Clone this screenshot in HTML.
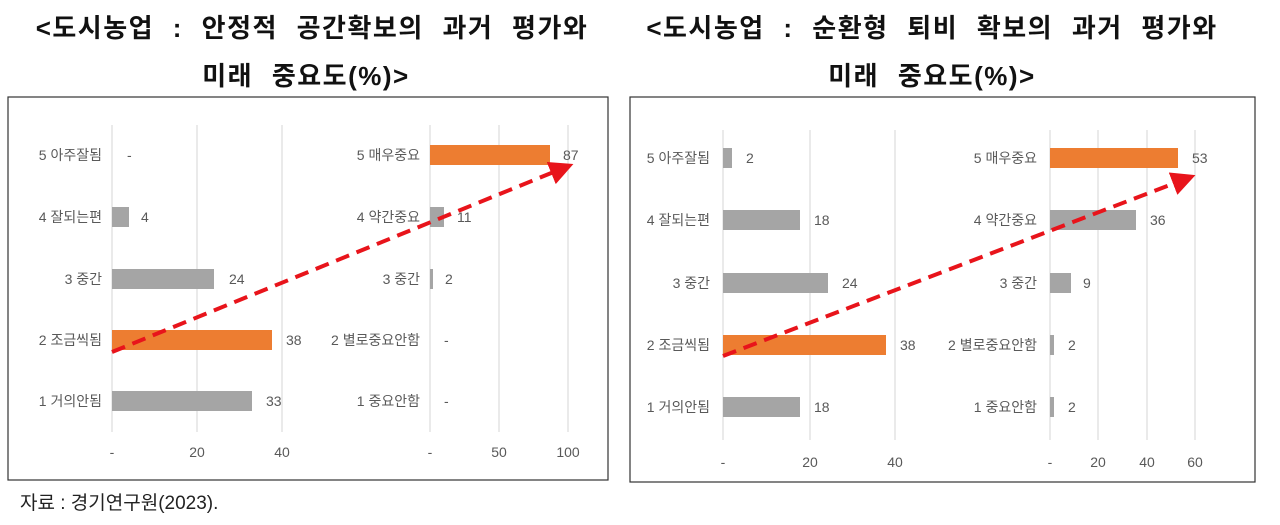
<!DOCTYPE html>
<html><head><meta charset="utf-8"><style>
body{margin:0;background:#fff;width:1280px;height:520px;overflow:hidden}
svg text{font-family:"Liberation Sans","Noto Sans CJK KR",sans-serif}
</style></head><body>
<svg width="1280" height="520" viewBox="0 0 1280 520" xmlns="http://www.w3.org/2000/svg">
<defs><marker id="ah" markerWidth="6" markerHeight="6" refX="4" refY="3" orient="auto"><path d="M0,0 L6,3 L0,6 z" fill="#e8141b"/></marker></defs>
<g font-weight="bold" font-size="26" fill="#111" text-anchor="middle" letter-spacing="1.5" word-spacing="10">
<text x="312" y="37">&lt;도시농업 : 안정적 공간확보의 과거 평가와</text>
<text x="306" y="85">미래 중요도(%)&gt;</text>
<text x="932" y="37">&lt;도시농업 : 순환형 퇴비 확보의 과거 평가와</text>
<text x="932" y="85">미래 중요도(%)&gt;</text>
</g>
<rect x="8" y="97" width="600" height="383" fill="#fff" stroke="#333" stroke-width="1.2"/>
<rect x="630" y="97" width="625" height="385" fill="#fff" stroke="#333" stroke-width="1.2"/>
<text x="20" y="509" font-size="19" fill="#222">자료 : 경기연구원(2023).</text>
<!-- left panel -->
<g stroke="#e3e3e3" stroke-width="1.5">
<line x1="112" y1="125" x2="112" y2="432"/><line x1="197" y1="125" x2="197" y2="432"/><line x1="282" y1="125" x2="282" y2="432"/>
<line x1="430" y1="125" x2="430" y2="432"/><line x1="499" y1="125" x2="499" y2="432"/><line x1="568" y1="125" x2="568" y2="432"/>
</g>
<g font-size="14" fill="#595959">
<g text-anchor="end">
<text x="102" y="160">5 아주잘됨</text><text x="102" y="222">4 잘되는편</text><text x="102" y="284">3 중간</text><text x="102" y="345">2 조금씩됨</text><text x="102" y="406">1 거의안됨</text>
<text x="420" y="160">5 매우중요</text><text x="420" y="222">4 약간중요</text><text x="420" y="284">3 중간</text><text x="420" y="345">2 별로중요안함</text><text x="420" y="406">1 중요안함</text>
</g>
<text x="127" y="160">-</text><text x="141" y="222">4</text><text x="229" y="284">24</text><text x="286" y="345">38</text><text x="266" y="406">33</text>
<text x="563" y="160">87</text><text x="457" y="222">11</text><text x="445" y="284">2</text><text x="444" y="345">-</text><text x="444" y="406">-</text>
<g text-anchor="middle">
<text x="112" y="457">-</text><text x="197" y="457">20</text><text x="282" y="457">40</text>
<text x="430" y="457">-</text><text x="499" y="457">50</text><text x="568" y="457">100</text>
</g>
</g>
<rect x="112" y="207" width="17" height="20" fill="#a5a5a5"/>
<rect x="112" y="269" width="102" height="20" fill="#a5a5a5"/>
<rect x="112" y="330" width="160" height="20" fill="#ed7d31"/>
<rect x="112" y="391" width="140" height="20" fill="#a5a5a5"/>
<rect x="430" y="145" width="120" height="20" fill="#ed7d31"/>
<rect x="430" y="207" width="14" height="20" fill="#a5a5a5"/>
<rect x="430" y="269" width="3" height="20" fill="#a5a5a5"/>
<line x1="112" y1="352" x2="566" y2="167" stroke="#e8141b" stroke-width="4" stroke-dasharray="14,8" marker-end="url(#ah)"/>
<!-- right panel -->
<g stroke="#e3e3e3" stroke-width="1.5">
<line x1="723" y1="130" x2="723" y2="440"/><line x1="810" y1="130" x2="810" y2="440"/><line x1="895" y1="130" x2="895" y2="440"/>
<line x1="1050" y1="130" x2="1050" y2="440"/><line x1="1098" y1="130" x2="1098" y2="440"/><line x1="1147" y1="130" x2="1147" y2="440"/><line x1="1195" y1="130" x2="1195" y2="440"/>
</g>
<g font-size="14" fill="#595959">
<g text-anchor="end">
<text x="710" y="163">5 아주잘됨</text><text x="710" y="225">4 잘되는편</text><text x="710" y="288">3 중간</text><text x="710" y="350">2 조금씩됨</text><text x="710" y="412">1 거의안됨</text>
<text x="1037" y="163">5 매우중요</text><text x="1037" y="225">4 약간중요</text><text x="1037" y="288">3 중간</text><text x="1037" y="350">2 별로중요안함</text><text x="1037" y="412">1 중요안함</text>
</g>
<text x="746" y="163">2</text><text x="814" y="225">18</text><text x="842" y="288">24</text><text x="900" y="350">38</text><text x="814" y="412">18</text>
<text x="1192" y="163">53</text><text x="1150" y="225">36</text><text x="1083" y="288">9</text><text x="1068" y="350">2</text><text x="1068" y="412">2</text>
<g text-anchor="middle">
<text x="723" y="467">-</text><text x="810" y="467">20</text><text x="895" y="467">40</text>
<text x="1050" y="467">-</text><text x="1098" y="467">20</text><text x="1147" y="467">40</text><text x="1195" y="467">60</text>
</g>
</g>
<rect x="723" y="148" width="9" height="20" fill="#a5a5a5"/>
<rect x="723" y="210" width="77" height="20" fill="#a5a5a5"/>
<rect x="723" y="273" width="105" height="20" fill="#a5a5a5"/>
<rect x="723" y="335" width="163" height="20" fill="#ed7d31"/>
<rect x="723" y="397" width="77" height="20" fill="#a5a5a5"/>
<rect x="1050" y="148" width="128" height="20" fill="#ed7d31"/>
<rect x="1050" y="210" width="86" height="20" fill="#a5a5a5"/>
<rect x="1050" y="273" width="21" height="20" fill="#a5a5a5"/>
<rect x="1050" y="335" width="4" height="20" fill="#a5a5a5"/>
<rect x="1050" y="397" width="4" height="20" fill="#a5a5a5"/>
<line x1="723" y1="356" x2="1188" y2="178" stroke="#e8141b" stroke-width="4" stroke-dasharray="14,8" marker-end="url(#ah)"/>
</svg>
</body></html>
